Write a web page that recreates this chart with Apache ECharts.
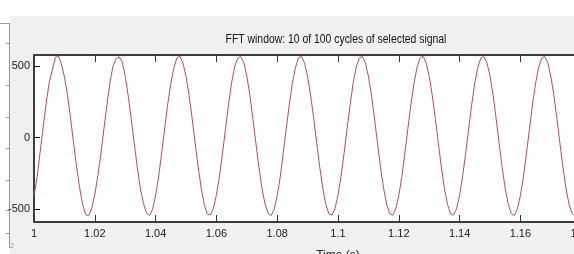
<!DOCTYPE html>
<html>
<head>
<meta charset="utf-8">
<script src="https://cdn.jsdelivr.net/npm/echarts@6/dist/echarts.min.js"></script>
<style>
  html, body { margin: 0; padding: 0; background: #fff; }
  #chart { width: 574px; height: 254px; }
</style>
</head>
<body>
<div id="chart"></div>
<script>
// signal, one sample per ms, one array per 50 Hz cycle
const cycle1 = [-410, -280, -105, 70, 238, 385, 470, 560, 572, 515, 425, 300, 140, -35, -205, -350, -470, -540, -548, -495];
const cycle2 = [-400, -268, -115, 60, 230, 388, 500, 552, 565, 530, 432, 290, 128, -45, -212, -360, -462, -528, -546, -505];
const cycle3 = [-405, -275, -108, 66, 236, 378, 488, 558, 570, 522, 428, 296, 136, -38, -206, -355, -470, -536, -542, -498];
const cycle4 = [-402, -270, -112, 62, 232, 384, 495, 555, 567, 526, 431, 299, 132, -42, -210, -358, -466, -531, -547, -503];
const cycle5 = [-408, -276, -106, 65, 235, 380, 490, 559, 569, 521, 427, 294, 135, -39, -208, -356, -469, -535, -543, -499];
const cycle6 = [-404, -272, -111, 63, 231, 383, 493, 556, 568, 525, 429, 298, 133, -41, -209, -357, -467, -532, -545, -501];
const cycle7 = [-406, -274, -109, 65, 234, 381, 491, 558, 569, 523, 430, 296, 134, -40, -208, -356, -468, -534, -544, -500];
const cycle8 = [-405, -273, -110, 64, 233, 382, 492, 557, 566, 524, 431, 297, 135, -40, -209, -357, -468, -533, -546, -500];
const cycle9 = [-407, -272, -110, 63, 234, 381, 492, 556, 568, 524, 430, 297, 134, -41, -209, -358, -467, -533, -544, -501];
const cycle10 = [-406, -273, -109, 64, 233, 381, 493, 557, 568, 523, 430, 297, 134, -40, -209, -357, -468, -533, -544, -500];
const lastSample = [-406];

const startTime = 1;
const sampleStep = 0.001;
const yTicks = [-500, 0, 500];
const titleText = "FFT window: 10 of 100 cycles of selected signal";
const xName = "Time (s)";

const signal = [].concat(cycle1, cycle2, cycle3, cycle4, cycle5, cycle6, cycle7, cycle8, cycle9, cycle10, lastSample);
const points = signal.map((v, i) => [startTime + i * sampleStep, v]);

const FONT = "'Liberation Sans', Arial, sans-serif";

const chart = echarts.init(document.getElementById("chart"));

// little ticks of the neighbouring panel at the left edge
const sideTicks = [43, 85, 117, 148, 180, 210, 233];

chart.setOption({
  animation: false,
  backgroundColor: "#fff",
  graphic: [
    { type: "rect", z: -10, shape: { x: 10, y: 16, width: 564, height: 238 }, style: { fill: "#f0f0f0" } },
    { type: "line", shape: { x1: 9.5, y1: 23, x2: 9.5, y2: 248 }, style: { stroke: "#999", lineWidth: 1 } },
    { type: "line", shape: { x1: 0, y1: 23.5, x2: 9, y2: 23.5 }, style: { stroke: "#999", lineWidth: 1 } },
    {
      // MATLAB draws a narrow font here, so squeeze the text sideways
      type: "text", x: 336, y: 39, scaleX: 0.8, z: 10,
      style: {
        text: titleText, fontFamily: FONT, fontSize: 13, fill: "#111",
        textAlign: "center", textVerticalAlign: "middle"
      }
    }
  ].concat(sideTicks.map(y => ({
    type: "line", shape: { x1: 6, y1: y + 0.5, x2: 9, y2: y + 0.5 }, style: { stroke: "#999", lineWidth: 1 }
  }))).concat([
    { type: "text", left: 10, top: 243, style: { text: "2", fontSize: 7, fill: "#999", fontFamily: FONT } }
  ]),
  grid: {
    left: 34,
    top: 55,
    right: -68,
    bottom: 32,
    outerBoundsMode: "none",
    show: true,
    backgroundColor: "#fff",
    borderColor: "#000",
    borderWidth: 1.5
  },
  xAxis: [
    {
      type: "value",
      min: 1,
      max: 1.2,
      interval: 0.02,
      name: xName,
      nameLocation: "middle",
      nameGap: 28,
      nameTextStyle: { fontFamily: FONT, fontSize: 12, color: "#222" },
      axisLine: { show: false, onZero: false },
      axisTick: { inside: true, length: 7, lineStyle: { color: "#333" } },
      axisLabel: {
        fontFamily: FONT, fontSize: 11, color: "#222", margin: 6,
        formatter: v => String(+v.toFixed(2))
      },
      splitLine: { show: false }
    },
    {
      type: "value",
      position: "top",
      min: 1,
      max: 1.2,
      interval: 0.02,
      axisLine: { show: false, onZero: false },
      axisTick: { inside: true, length: 7, lineStyle: { color: "#333" } },
      axisLabel: { show: false },
      splitLine: { show: false }
    }
  ],
  yAxis: {
    type: "value",
    min: -592,
    max: 578,
    axisLine: { show: false },
    axisTick: { inside: true, length: 6, customValues: yTicks, lineStyle: { color: "#111" } },
    axisLabel: { fontFamily: FONT, fontSize: 11, color: "#222", margin: 4, customValues: yTicks },
    splitLine: { show: false }
  },
  series: [
    {
      type: "line",
      data: points,
      showSymbol: false,
      lineStyle: { color: "#b0505c", width: 1 }
    }
  ]
});
</script>
</body>
</html>
